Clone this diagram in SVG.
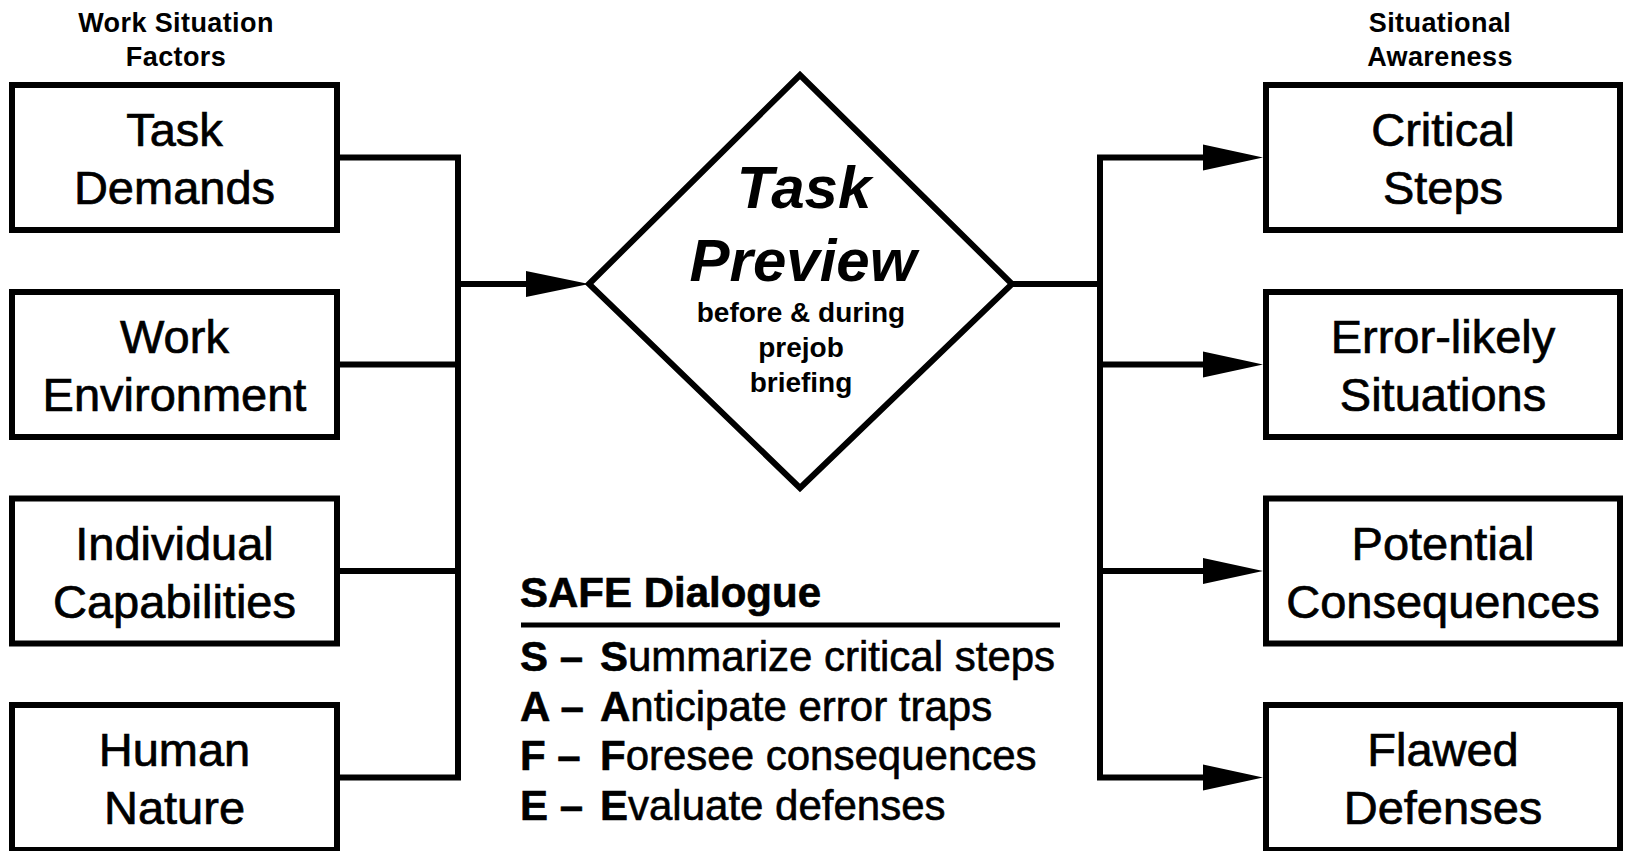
<svg xmlns="http://www.w3.org/2000/svg" width="1627" height="851" viewBox="0 0 1627 851">
  <style>
    .box { fill: #ffffff; stroke: #000000; stroke-width: 6; }
    .wire { fill: none; stroke: #000000; stroke-width: 6; stroke-linejoin: miter; stroke-linecap: butt; }
    .head { fill: #000000; stroke: none; }
    .lbl { font-family: "Liberation Sans", Arial, Helvetica, sans-serif; font-size: 47px; fill: #000000; text-anchor: middle; stroke: #000000; stroke-width: 0.7; }
    .hdr { font-family: "Liberation Sans", Arial, Helvetica, sans-serif; font-size: 27px; font-weight: bold; letter-spacing: 0.4px; fill: #000000; text-anchor: middle; }
    .big { font-family: "Liberation Sans", Arial, Helvetica, sans-serif; font-size: 60px; font-weight: bold; font-style: italic; fill: #000000; text-anchor: middle; }
    .sub { font-family: "Liberation Sans", Arial, Helvetica, sans-serif; font-size: 28px; font-weight: bold; fill: #000000; text-anchor: middle; }
    .safe { font-family: "Liberation Sans", Arial, Helvetica, sans-serif; font-size: 42px; fill: #000000; stroke: #000000; stroke-width: 0.6; }
    .b { font-weight: bold; }
  </style>

  <!-- column headings -->
  <g id="heading-left">
    <text class="hdr" x="176" y="32">Work Situation</text>
    <text class="hdr" x="176" y="66">Factors</text>
  </g>
  <g id="heading-right">
    <text class="hdr" x="1440" y="32">Situational</text>
    <text class="hdr" x="1440" y="66">Awareness</text>
  </g>

  <!-- input factors -->
  <g id="task-demands">
    <rect class="box" x="12" y="85" width="325" height="145"/>
    <text class="lbl" x="174.5" y="146">Task</text>
    <text class="lbl" x="174.5" y="204">Demands</text>
  </g>
  <g id="work-environment">
    <rect class="box" x="12" y="292" width="325" height="145"/>
    <text class="lbl" x="174.5" y="353">Work</text>
    <text class="lbl" x="174.5" y="411">Environment</text>
  </g>
  <g id="individual-capabilities">
    <rect class="box" x="12" y="498.5" width="325" height="145"/>
    <text class="lbl" x="174.5" y="559.5">Individual</text>
    <text class="lbl" x="174.5" y="617.5">Capabilities</text>
  </g>
  <g id="human-nature">
    <rect class="box" x="12" y="705" width="325" height="145"/>
    <text class="lbl" x="174.5" y="766">Human</text>
    <text class="lbl" x="174.5" y="824">Nature</text>
  </g>

  <!-- central decision diamond -->
  <g id="task-preview">
    <polygon class="box" points="589,284 800,75 1012,284 800,488"/>
    <text class="big" x="804" y="208">Task</text>
    <text class="big" x="803" y="281">Preview</text>
    <text class="sub" x="801" y="322">before &amp; during</text>
    <text class="sub" x="801" y="357">prejob</text>
    <text class="sub" x="801" y="392">briefing</text>
  </g>

  <!-- awareness outputs -->
  <g id="critical-steps">
    <rect class="box" x="1266" y="85" width="354" height="145"/>
    <text class="lbl" x="1443" y="146">Critical</text>
    <text class="lbl" x="1443" y="204">Steps</text>
  </g>
  <g id="error-likely-situations">
    <rect class="box" x="1266" y="292" width="354" height="145"/>
    <text class="lbl" x="1443" y="353">Error-likely</text>
    <text class="lbl" x="1443" y="411">Situations</text>
  </g>
  <g id="potential-consequences">
    <rect class="box" x="1266" y="498.5" width="354" height="145"/>
    <text class="lbl" x="1443" y="559.5">Potential</text>
    <text class="lbl" x="1443" y="617.5">Consequences</text>
  </g>
  <g id="flawed-defenses">
    <rect class="box" x="1266" y="705" width="354" height="145"/>
    <text class="lbl" x="1443" y="766">Flawed</text>
    <text class="lbl" x="1443" y="824">Defenses</text>
  </g>

  <!-- connectors -->
  <g id="connectors">
    <path class="wire" d="M337,157.5 H458 V777.5 H337"/>
    <path class="wire" d="M337,364.5 H458"/>
    <path class="wire" d="M337,571 H458"/>
    <path class="wire" d="M458,284 H560"/>
    <polygon class="head" points="526,271 589,284 526,297"/>

    <path class="wire" d="M1012,284 H1100"/>
    <path class="wire" d="M1230,157.5 H1100 V777.5 H1230"/>
    <path class="wire" d="M1100,364.5 H1230"/>
    <path class="wire" d="M1100,571 H1230"/>
    <polygon class="head" points="1203,144.5 1263,157.5 1203,170.5"/>
    <polygon class="head" points="1203,351.5 1263,364.5 1203,377.5"/>
    <polygon class="head" points="1203,558 1263,571 1203,584"/>
    <polygon class="head" points="1203,764.5 1263,777.5 1203,790.5"/>
  </g>

  <!-- SAFE mnemonic -->
  <g id="safe-dialogue">
    <text class="safe b" x="520" y="607" font-size="41">SAFE Dialogue</text>
    <line x1="521" y1="625" x2="1060" y2="625" stroke="#000000" stroke-width="5"/>
    <text class="safe" y="671"><tspan class="b" x="520">S –</tspan><tspan class="b" x="600">S</tspan><tspan>ummarize critical steps</tspan></text>
    <text class="safe" y="720.5"><tspan class="b" x="520">A –</tspan><tspan class="b" x="600">A</tspan><tspan>nticipate error traps</tspan></text>
    <text class="safe" y="770"><tspan class="b" x="520">F –</tspan><tspan class="b" x="600">F</tspan><tspan>oresee consequences</tspan></text>
    <text class="safe" y="819.5"><tspan class="b" x="520">E –</tspan><tspan class="b" x="600">E</tspan><tspan>valuate defenses</tspan></text>
  </g>
</svg>
